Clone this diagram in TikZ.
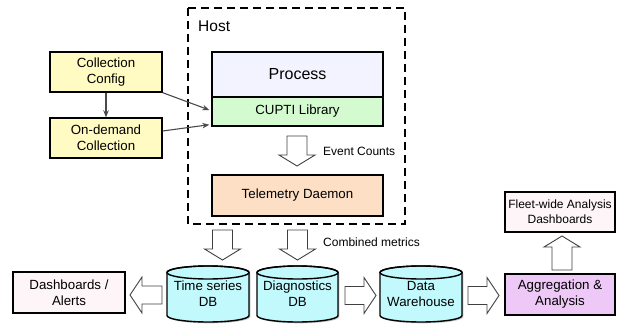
\documentclass[tikz,border=0pt]{standalone}
\usepackage{fontspec}
\setmainfont{Liberation Sans}
\usetikzlibrary{shadows,calc,arrows.meta}
\definecolor{cfgyellow}{HTML}{FFFBC2}
\definecolor{procblue}{HTML}{F3F2FF}
\definecolor{cuptigreen}{HTML}{D4FBD0}
\definecolor{telpeach}{HTML}{FDDFC6}
\definecolor{dbcyan}{HTML}{C1F9FD}
\definecolor{dashpink}{HTML}{FDF5F7}
\definecolor{aggpurple}{HTML}{EEC8F7}
\definecolor{linkgray}{HTML}{4A4A4A}
\newcommand\mybdown[3]{% cx, ytop, ytip
  \draw[blockarr] ({#1-10},{#2}) -- ({#1+10},{#2}) -- ({#1+10},{#3-11}) -- ({#1+18},{#3-11}) -- ({#1},{#3}) -- ({#1-18},{#3-11}) -- ({#1-10},{#3-11}) -- cycle;}
\newcommand\mybup[3]{% cx, ytail(bottom), ytip(top)
  \draw[blockarr] ({#1-10},{#2}) -- ({#1+10},{#2}) -- ({#1+10},{#3+11}) -- ({#1+18},{#3+11}) -- ({#1},{#3}) -- ({#1-18},{#3+11}) -- ({#1-10},{#3+11}) -- cycle;}
\newcommand\mybright[3]{% cy, xtail, xtip
  \draw[blockarr] ({#2},{#1-9}) -- ({#3-12},{#1-9}) -- ({#3-12},{#1-18}) -- ({#3},{#1}) -- ({#3-12},{#1+18}) -- ({#3-12},{#1+9}) -- ({#2},{#1+9}) -- cycle;}
\newcommand\mybleft[3]{% cy, xtail, xtip
  \draw[blockarr] ({#2},{#1-9}) -- ({#3+12},{#1-9}) -- ({#3+12},{#1-18}) -- ({#3},{#1}) -- ({#3+12},{#1+18}) -- ({#3+12},{#1+9}) -- ({#2},{#1+9}) -- cycle;}
\newcommand\mycyl[4]{% cx, ytop, ybot, rx
  \fill[black,opacity=0.25,xshift=1.3pt,yshift=-1.3pt] ({#1-#4},{#2+6.5}) -- ({#1-#4},{#3-6.5}) arc[start angle=180,end angle=0,x radius=#4,y radius=6.5] -- ({#1+#4},{#2+6.5}) arc[start angle=0,end angle=-180,x radius=#4,y radius=6.5] -- cycle;
  \draw[line width=1.4pt,fill=dbcyan] ({#1-#4},{#2+6.5}) -- ({#1-#4},{#3-6.5}) arc[start angle=180,end angle=0,x radius=#4,y radius=6.5] -- ({#1+#4},{#2+6.5}) arc[start angle=0,end angle=-180,x radius=#4,y radius=6.5] -- cycle;
  \draw[line width=1.4pt] ({#1},{#2+6.5}) ellipse[x radius=#4,y radius=6.5];}
\begin{document}
\begin{tikzpicture}[x=1pt,y=-1pt,
  box/.style={draw=black,line width=1.4pt,rectangle,inner sep=0pt,align=center,
    font=\fontsize{13.3}{16}\selectfont,
    drop shadow={shadow xshift=1.3pt,shadow yshift=-1.3pt,opacity=0.25}},
  dbtext/.style={inner sep=0pt,align=center,font=\fontsize{13.3}{16}\selectfont,minimum width=80pt,minimum height=56pt},
  lbl/.style={inner sep=0pt,anchor=west,font=\fontsize{12}{14}\selectfont},
  link/.style={draw=linkgray,line width=1.1pt,-{Stealth[length=7pt,width=5.5pt]}},
  blockarr/.style={draw=black!75,line width=0.9pt,fill=white,line join=miter}]
\useasboundingbox (0,0) rectangle (617,328);
% host
\draw[line width=1.8pt,dash pattern=on 8pt off 5pt] (188,8) rectangle (405,224);
\node[inner sep=0pt,anchor=west,font=\fontsize{15.5}{18}\selectfont] (host) at (198,26) {Host};
% left config boxes
\node[box,fill=cfgyellow,minimum width=112pt,minimum height=40pt] (cc) at (106,72) {Collection\\Config};
\node[box,fill=cfgyellow,minimum width=112pt,minimum height=40pt] (od) at (106,138) {On-demand\\Collection};
% process stack
\node[box,fill=procblue,minimum width=171pt,minimum height=45pt,font=\fontsize{16}{19}\selectfont] (proc) at (297.5,74.5) {Process};
\node[box,fill=cuptigreen,minimum width=171pt,minimum height=29pt] (cupti) at (297.5,111.5) {CUPTI Library};
\node[box,fill=telpeach,minimum width=171pt,minimum height=41pt] (tel) at (297.5,195.5) {Telemetry Daemon};
% databases
\mycyl{208}{266}{322}{41}
\mycyl{297.5}{266}{322}{40.5}
\mycyl{421}{266}{322}{41}
\node[dbtext] (tsdb) at (208,294) {Time series\\DB};
\node[dbtext] (diag) at (297.5,294) {Diagnostics\\DB};
\node[dbtext] (dw) at (421,294) {Data\\Warehouse};
% outputs
\node[box,fill=dashpink,minimum width=112pt,minimum height=41pt] (dash) at (69,292.5) {Dashboards /\\Alerts};
\node[box,fill=aggpurple,minimum width=110pt,minimum height=41pt] (agg) at (560,294.5) {Aggregation \&\\Analysis};
\node[box,fill=dashpink,minimum width=110pt,minimum height=40pt,font=\fontsize{12}{15}\selectfont] (fleet) at (560,212) {Fleet-wide Analysis\\Dashboards};
% thin connectors
\draw[link] (cc.south) -- (od.north);
\draw[link] (cc.south east) -- ($(cupti.west)+(-2,-1.5)$);
\draw[link] ($(od.east)+(0,-7)$) -- ($(cupti.south west)+(-2,-2)$);
% block arrows
\mybdown{297}{136}{166}
\mybdown{222.5}{230}{260}
\mybdown{297.5}{230}{260}
\mybleft{295}{162}{130}
\mybright{295.5}{345}{376}
\mybright{295.5}{468}{499}
\mybup{562}{270}{236}
% labels
\node[lbl] (ev) at (323,151) {Event Counts};
\node[lbl] (cm) at (323,242) {Combined metrics};
\end{tikzpicture}
\end{document}
